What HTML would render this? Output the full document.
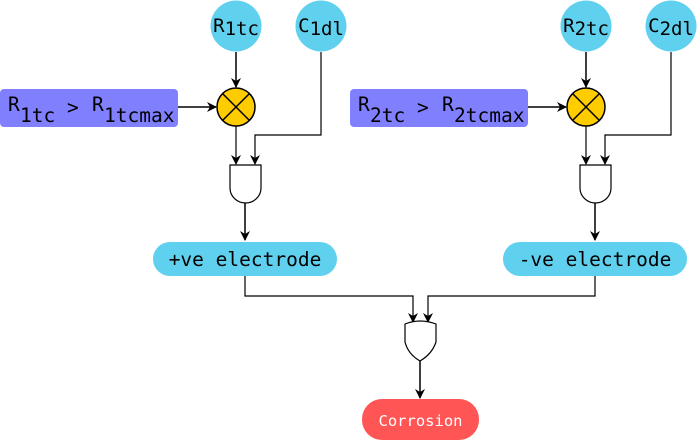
<!DOCTYPE html>
<html><head><meta charset="utf-8"><style>
html,body{margin:0;padding:0;background:#fff;width:699px;height:440px;overflow:hidden}
text{font-family:"DejaVu Sans Mono","Liberation Mono",monospace;}
</style></head><body>
<svg width="699" height="440" viewBox="0 0 699 440" xmlns="http://www.w3.org/2000/svg">
<defs>
<marker id="a" markerWidth="10" markerHeight="10" refX="9" refY="5" orient="auto" markerUnits="userSpaceOnUse">
<path d="M0,0 L10,5 L0,10 L3,5 Z" fill="#000"/></marker>
</defs>
<g>
<circle cx="236" cy="26" r="25.5" fill="#5fd0ee"/>
<text x="236" y="32" font-size="19" text-anchor="middle">R<tspan dy="3">1tc</tspan></text>
<circle cx="321" cy="26" r="25.5" fill="#5fd0ee"/>
<text x="321" y="32" font-size="19" text-anchor="middle">C<tspan dy="3">1dl</tspan></text>
<rect x="0" y="89" width="178" height="38" rx="4" fill="#8080ff"/>
<text x="8" y="111" font-size="19.5">R</text><text x="20" y="122" font-size="19.5">1tc</text>
<text x="67" y="114" font-size="19.5">&gt;</text>
<text x="92" y="111" font-size="19.5">R</text><text x="104" y="122" font-size="19.5">1tcmax</text>
<line x1="178" y1="107" x2="216" y2="107" stroke="#000" stroke-width="1.5" marker-end="url(#a)"/>
<line x1="236" y1="52" x2="236" y2="87" stroke="#000" stroke-width="1.5" marker-end="url(#a)"/>
<circle cx="236" cy="107" r="19" fill="#ffcc00" stroke="#000" stroke-width="1.5"/>
<line x1="222.5" y1="93.5" x2="249.5" y2="120.5" stroke="#000" stroke-width="1.5"/>
<line x1="249.5" y1="93.5" x2="222.5" y2="120.5" stroke="#000" stroke-width="1.5"/>
<line x1="236" y1="126" x2="236" y2="164" stroke="#000" stroke-width="1.2" marker-end="url(#a)"/>
<polyline points="321,52 321,135 255,135 255,164" fill="none" stroke="#000" stroke-width="1.2" marker-end="url(#a)"/>
<path d="M230,165 L261,165 L261,188 A15.5,15 0 0 1 230,188 Z" fill="#fff" stroke="#000" stroke-width="1.2"/>
<line x1="245" y1="203" x2="245" y2="240" stroke="#000" stroke-width="1.5" marker-end="url(#a)"/>
</g>
<g transform="translate(350,0)">
<circle cx="236" cy="26" r="25.5" fill="#5fd0ee"/>
<text x="236" y="32" font-size="19" text-anchor="middle">R<tspan dy="3">2tc</tspan></text>
<circle cx="321" cy="26" r="25.5" fill="#5fd0ee"/>
<text x="321" y="32" font-size="19" text-anchor="middle">C<tspan dy="3">2dl</tspan></text>
<rect x="0" y="89" width="178" height="38" rx="4" fill="#8080ff"/>
<text x="8" y="111" font-size="19.5">R</text><text x="20" y="122" font-size="19.5">2tc</text>
<text x="67" y="114" font-size="19.5">&gt;</text>
<text x="92" y="111" font-size="19.5">R</text><text x="104" y="122" font-size="19.5">2tcmax</text>
<line x1="178" y1="107" x2="216" y2="107" stroke="#000" stroke-width="1.5" marker-end="url(#a)"/>
<line x1="236" y1="52" x2="236" y2="87" stroke="#000" stroke-width="1.5" marker-end="url(#a)"/>
<circle cx="236" cy="107" r="19" fill="#ffcc00" stroke="#000" stroke-width="1.5"/>
<line x1="222.5" y1="93.5" x2="249.5" y2="120.5" stroke="#000" stroke-width="1.5"/>
<line x1="249.5" y1="93.5" x2="222.5" y2="120.5" stroke="#000" stroke-width="1.5"/>
<line x1="236" y1="126" x2="236" y2="164" stroke="#000" stroke-width="1.2" marker-end="url(#a)"/>
<polyline points="321,52 321,135 255,135 255,164" fill="none" stroke="#000" stroke-width="1.2" marker-end="url(#a)"/>
<path d="M230,165 L261,165 L261,188 A15.5,15 0 0 1 230,188 Z" fill="#fff" stroke="#000" stroke-width="1.2"/>
<line x1="245" y1="203" x2="245" y2="240" stroke="#000" stroke-width="1.5" marker-end="url(#a)"/>
</g>
<rect x="153" y="242" width="184" height="34" rx="17" fill="#5fd0ee"/>
<text x="245" y="266" font-size="19.5" text-anchor="middle">+ve electrode</text>
<rect x="503" y="242" width="184" height="34" rx="17" fill="#5fd0ee"/>
<text x="595" y="266" font-size="19.5" text-anchor="middle">-ve electrode</text>
<polyline points="245,276 245,296 413,296 413,322" fill="none" stroke="#000" stroke-width="1.2" marker-end="url(#a)"/>
<polyline points="595,276 595,296 428,296 428,322" fill="none" stroke="#000" stroke-width="1.2" marker-end="url(#a)"/>
<path d="M405,324 Q420,318 436,324 L436,342 Q432,354 420,361 Q408,354 405,342 Z" fill="#fff" stroke="#000" stroke-width="1.2"/>
<line x1="420" y1="361" x2="420" y2="398" stroke="#000" stroke-width="1.5" marker-end="url(#a)"/>
<rect x="362" y="399" width="117" height="41" rx="20" fill="#ff5555"/>
<text x="420.5" y="426" font-size="15.5" fill="#fff" text-anchor="middle">Corrosion</text>
</svg>
</body></html>
